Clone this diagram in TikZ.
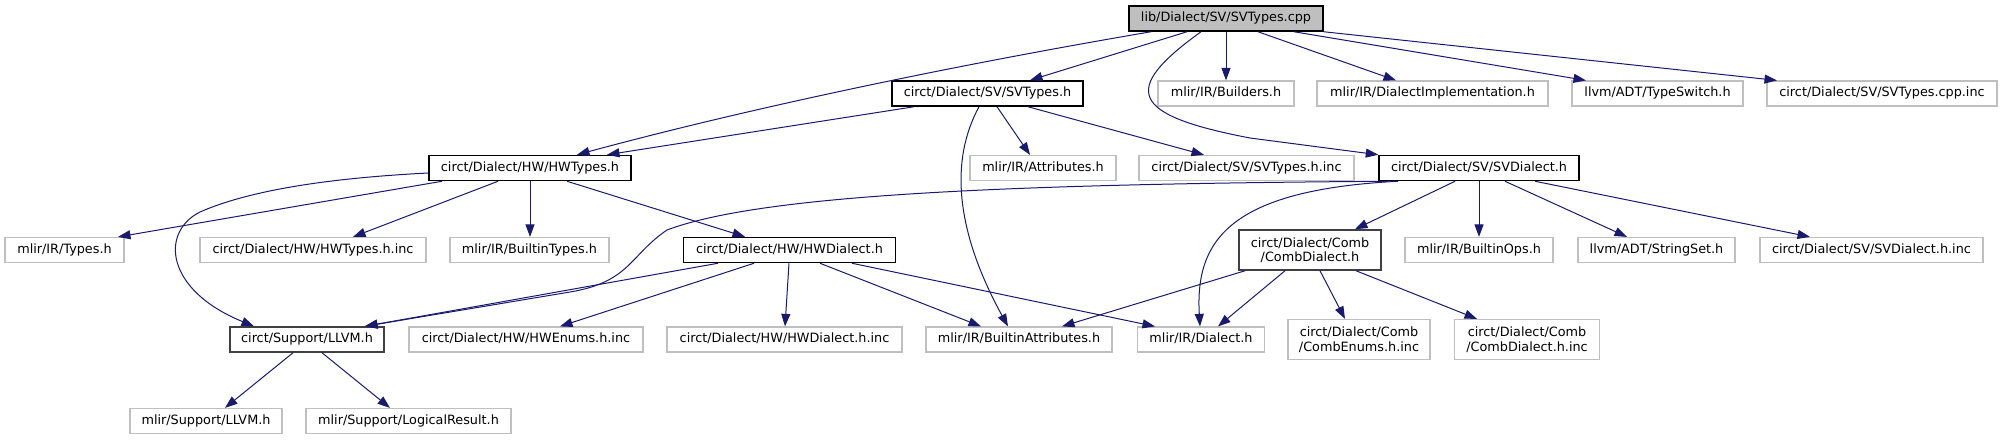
\documentclass[tikz,border=0pt]{standalone}
\usepackage{fontspec}
\setmainfont{DejaVu Sans}
\usetikzlibrary{arrows.meta}
\definecolor{edgeblue}{HTML}{191970}
\definecolor{extgrey}{HTML}{BFBFBF}
\definecolor{rootgrey}{HTML}{BFBFBF}
\definecolor{darkgrey}{HTML}{404040}
\begin{document}
\begin{tikzpicture}[x=1pt,y=-1pt,
  basebox/.style={draw=black, line width=1.5pt, inner sep=0pt, text=black,
    font=\fontsize{12.8}{14.5}\selectfont, align=center},
  one/.style={basebox, minimum height=25pt, text height=9.7pt, text depth=3pt},
  two/.style={basebox, minimum height=40pt},
  docbox/.style={one},
  extbox/.style={one, draw=extgrey, line width=1.2pt},
  darkbox/.style={one, draw=darkgrey},
  rootbox/.style={one, fill=rootgrey},
  darktwo/.style={two, draw=darkgrey},
  exttwo/.style={two, draw=extgrey, line width=1.2pt},
  dep/.style={draw=edgeblue, line width=1pt, -{Triangle[length=12.5pt,width=9pt]}},
]
\useasboundingbox (0,0) rectangle (2002,440);

% row 1
\node[rootbox, minimum width=194pt] (root) at (1226,18.5) {lib/Dialect/SV/SVTypes.cpp};
% row 2
\node[docbox, minimum width=191pt] (svt) at (987.5,93.5) {circt/Dialect/SV/SVTypes.h};
\node[extbox, minimum width=136pt] (bld) at (1226,93.5) {mlir/IR/Builders.h};
\node[extbox, minimum width=231pt] (dimp) at (1432.5,93.5) {mlir/IR/DialectImplementation.h};
\node[extbox, minimum width=171pt] (tsw) at (1657.5,93.5) {llvm/ADT/TypeSwitch.h};
\node[extbox, minimum width=230pt] (cppinc) at (1882,93.5) {circt/Dialect/SV/SVTypes.cpp.inc};
% row 3
\node[docbox, minimum width=202pt] (hwt) at (530,168) {circt/Dialect/HW/HWTypes.h};
\node[extbox, minimum width=146pt] (attr) at (1043,168) {mlir/IR/Attributes.h};
\node[extbox, minimum width=215pt] (svhinc) at (1246.5,168) {circt/Dialect/SV/SVTypes.h.inc};
\node[docbox, minimum width=200pt] (svd) at (1479,168) {circt/Dialect/SV/SVDialect.h};
% row 4
\node[extbox, minimum width=119pt] (types) at (64.5,250) {mlir/IR/Types.h};
\node[extbox, minimum width=226pt] (hwtinc) at (313,250) {circt/Dialect/HW/HWTypes.h.inc};
\node[extbox, minimum width=159pt] (btypes) at (529.5,250) {mlir/IR/BuiltinTypes.h};
\node[docbox, minimum width=212pt] (hwd) at (789.5,250) {circt/Dialect/HW/HWDialect.h};
\node[darktwo, minimum width=142pt] (comb) at (1310,250) {circt/Dialect/Comb\\/CombDialect.h};
\node[extbox, minimum width=148pt] (bops) at (1479,250) {mlir/IR/BuiltinOps.h};
\node[extbox, minimum width=157pt] (sset) at (1656.5,250) {llvm/ADT/StringSet.h};
\node[extbox, minimum width=223pt] (svdinc) at (1871.5,250) {circt/Dialect/SV/SVDialect.h.inc};
% row 5
\node[darkbox, minimum width=154pt] (sllvm) at (307,339.5) {circt/Support/LLVM.h};
\node[extbox, minimum width=234pt] (hwenum) at (526,339.5) {circt/Dialect/HW/HWEnums.h.inc};
\node[extbox, minimum width=235pt] (hwdinc) at (784.5,339.5) {circt/Dialect/HW/HWDialect.h.inc};
\node[extbox, minimum width=186pt] (battr) at (1019,339.5) {mlir/IR/BuiltinAttributes.h};
\node[extbox, minimum width=127pt] (dial) at (1201,339.5) {mlir/IR/Dialect.h};
\node[exttwo, minimum width=142pt] (cenum) at (1359,339.5) {circt/Dialect/Comb\\/CombEnums.h.inc};
\node[exttwo, minimum width=145pt] (cdinc) at (1527,339.5) {circt/Dialect/Comb\\/CombDialect.h.inc};
% row 6
\node[extbox, minimum width=152pt] (mllvm) at (206,421) {mlir/Support/LLVM.h};
\node[extbox, minimum width=205pt] (lres) at (408.5,421) {mlir/Support/LogicalResult.h};

% edges from root
\draw[dep] (1151,0 |- root.south) .. controls (950,66) and (750,108) .. (577,0 |- hwt.north);
\draw[dep] (1187,0 |- root.south) -- (1030,0 |- svt.north);
\draw[dep] (1201,0 |- root.south) .. controls (1120,90) and (1130,115) .. (1250,138) -- (svd.north west);
\draw[dep] (root.south) -- (bld.north);
\draw[dep] (1258,0 |- root.south) -- (1396,0 |- dimp.north);
\draw[dep] (1294,0 |- root.south) -- (1586,0 |- tsw.north);
\draw[dep] (root.south east) -- (1777,0 |- cppinc.north);

% edges from SVTypes.h
\draw[dep] (914,0 |- svt.south) -- (607,0 |- hwt.north);
\draw[dep] (979,0 |- svt.south) .. controls (950,160) and (955,230) .. (1008,0 |- battr.north);
\draw[dep] (997,0 |- svt.south) -- (1030,0 |- attr.north);
\draw[dep] (1028,0 |- svt.south) -- (1204,0 |- svhinc.north);

% edges from HWTypes.h
\draw[dep] ([yshift=-5pt]hwt.west) .. controls (330,178) and (250,190) .. (200,212)
  .. controls (160,232) and (165,290) .. (254,0 |- sllvm.north);
\draw[dep] (442,0 |- hwt.south) -- (118,0 |- types.north);
\draw[dep] (498,0 |- hwt.south) -- (353,0 |- hwtinc.north);
\draw[dep] (530,0 |- hwt.south) -- (530,0 |- btypes.north);
\draw[dep] (567,0 |- hwt.south) -- (745,0 |- hwd.north);

% edges from HWDialect.h
\draw[dep] (718,0 |- hwd.south) -- (365,0 |- sllvm.north);
\draw[dep] (754,0 |- hwd.south) -- (560,0 |- hwenum.north);
\draw[dep] (789,0 |- hwd.south) -- (785,0 |- hwdinc.north);
\draw[dep] (820,0 |- hwd.south) -- (981,0 |- battr.north);
\draw[dep] (852,0 |- hwd.south) -- (1155,0 |- dial.north);

% edges from CombDialect.h
\draw[dep] (1245,0 |- comb.south) -- (1062,0 |- battr.north);
\draw[dep] (1285,0 |- comb.south) -- (1218,0 |- dial.north);
\draw[dep] (1320,0 |- comb.south) -- (1345,0 |- cenum.north);
\draw[dep] (1356,0 |- comb.south) -- (1477,0 |- cdinc.north);

% edges from SVDialect.h
\draw[dep] (1388,0 |- svd.south) .. controls (1000,184) and (760,195) .. (667,230)
  .. controls (630,255) and (630,282) .. (570,292) -- (365,0 |- sllvm.north);
\draw[dep] (1398,0 |- svd.south) .. controls (1230,190) and (1195,240) .. (1200,0 |- dial.north);
\draw[dep] (1455,0 |- svd.south) -- (1355,0 |- comb.north);
\draw[dep] (svd.south) -- (bops.north);
\draw[dep] (1505,0 |- svd.south) -- (1627,0 |- sset.north);
\draw[dep] (1535,0 |- svd.south) -- (1810,0 |- svdinc.north);

% edges from circt/Support/LLVM.h
\draw[dep] (293,0 |- sllvm.south) -- (225,0 |- mllvm.north);
\draw[dep] (322,0 |- sllvm.south) -- (390,0 |- lres.north);
\end{tikzpicture}
\end{document}
